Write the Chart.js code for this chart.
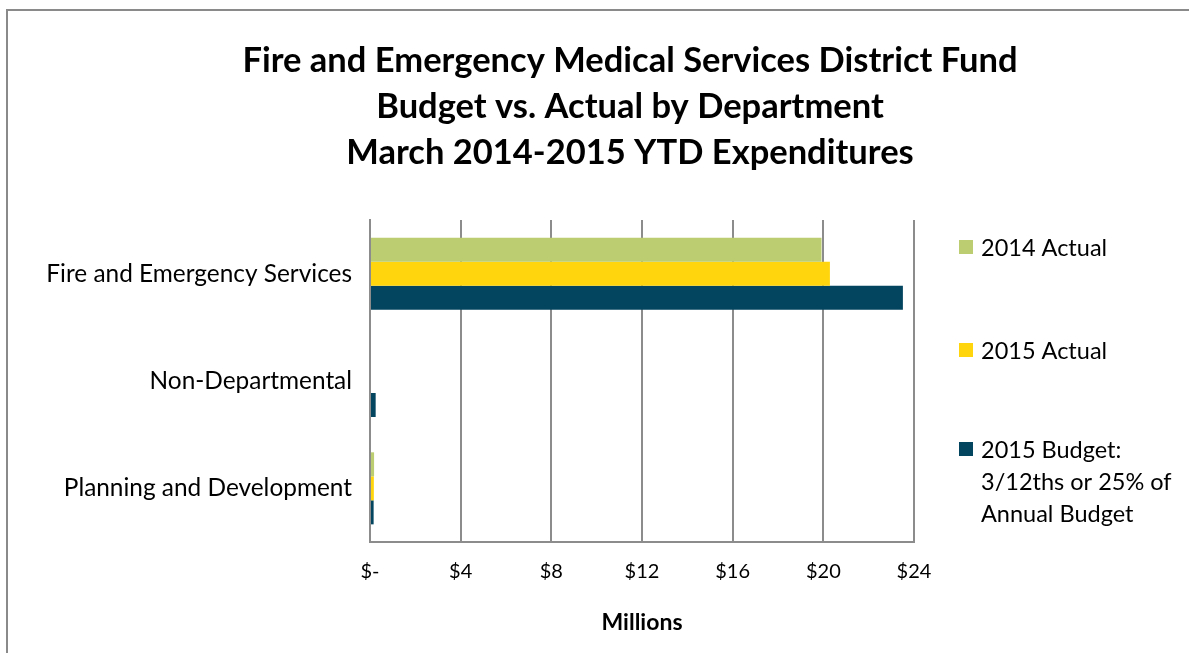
<!DOCTYPE html>
<html>
<head>
<meta charset="utf-8">
<title>Fire and EMS District Fund – Budget vs. Actual</title>
<script src="https://cdn.jsdelivr.net/npm/chart.js@4.4.1/dist/chart.umd.min.js"></script>
<style>
  html, body { margin: 0; padding: 0; background: #ffffff; }
  #wrap { width: 1189px; height: 653px; }
</style>
</head>
<body>
<div id="wrap"><canvas id="chart" width="1189" height="653"></canvas></div>
<script>
// Departments (top to bottom) and YTD expenditures in millions of dollars
const categories = ['Fire and Emergency Services', 'Non-Departmental', 'Planning and Development'];
const actual2014 = [19.92, 0, 0.18];
const actual2015 = [20.29, 0, 0.17];
const budget2015 = [23.51, 0.25, 0.16];

const seriesNames = ['2014 Actual', '2015 Actual', '2015 Budget: 3/12ths or 25% of Annual Budget'];
const seriesColors = ['#BBCC71', '#FFD60E', '#03445F'];

const xTickLabels = ['$-', '$4', '$8', '$12', '$16', '$20', '$24'];
const xAxisTitle = 'Millions';
const titleLines = [
  'Fire and Emergency Medical Services District Fund',
  'Budget vs. Actual by Department',
  'March 2014-2015 YTD Expenditures'
];

const FONT = 'Lato, "Open Sans", sans-serif';
const GRID = '#8c8c8c';

// Outer frame, white page and the three-line heading
const framePlugin = {
  id: 'frame',
  beforeDraw(chart) {
    const ctx = chart.ctx;
    ctx.save();
    ctx.fillStyle = '#ffffff';
    ctx.fillRect(0, 0, chart.width, chart.height);
    ctx.strokeStyle = '#8a8a8a';
    ctx.lineWidth = 2;
    ctx.strokeRect(7, 10, chart.width + 20, chart.height + 20);
    ctx.restore();
  },
  afterDraw(chart) {
    const ctx = chart.ctx;
    ctx.save();
    ctx.fillStyle = '#000000';
    ctx.font = 'bold 34.5px ' + FONT;
    ctx.textAlign = 'center';
    ctx.textBaseline = 'middle';
    titleLines.forEach((line, i) => ctx.fillText(line, 630, 61 + i * 46));
    ctx.restore();
  }
};

// Legend on the right: square swatch plus word-wrapped series name
const sideLegend = {
  id: 'sideLegend',
  afterDraw(chart) {
    const ctx = chart.ctx;
    const centers = [247, 350, 449];
    const maxW = 205, lineH = 32;
    ctx.save();
    ctx.font = '23.5px ' + FONT;
    ctx.textAlign = 'left';
    ctx.textBaseline = 'middle';
    chart.data.datasets.forEach((ds, i) => {
      const cy = centers[i];
      ctx.fillStyle = ds.backgroundColor;
      ctx.fillRect(959, cy - 7, 14, 14);
      const words = ds.label.split(' ');
      const lines = [];
      let cur = '';
      words.forEach(w => {
        const test = cur ? cur + ' ' + w : w;
        if (cur && ctx.measureText(test).width > maxW) { lines.push(cur); cur = w; }
        else cur = test;
      });
      if (cur) lines.push(cur);
      ctx.fillStyle = '#000000';
      lines.forEach((ln, j) => ctx.fillText(ln, 981, cy + 1 + j * lineH));
    });
    ctx.restore();
  }
};

new Chart(document.getElementById('chart'), {
  type: 'bar',
  data: {
    labels: categories,
    datasets: [
      { label: seriesNames[0], data: actual2014, backgroundColor: seriesColors[0] },
      { label: seriesNames[1], data: actual2015, backgroundColor: seriesColors[1] },
      { label: seriesNames[2], data: budget2015, backgroundColor: seriesColors[2] }
    ]
  },
  options: {
    indexAxis: 'y',
    responsive: false,
    animation: false,
    events: [],
    layout: { padding: { top: 220, right: 275, left: 0, bottom: 0 } },
    datasets: {
      bar: { categoryPercentage: 0.671, barPercentage: 1.0, borderWidth: 0 }
    },
    plugins: {
      legend: { display: false },
      title: { display: false },
      tooltip: { enabled: false }
    },
    scales: {
      x: {
        min: 0,
        max: 24,
        afterFit(scale) { scale.height = 111; },
        ticks: {
          stepSize: 4,
          color: '#000000',
          padding: 18,
          font: { family: FONT, size: 20 },
          callback: (v, i) => xTickLabels[i]
        },
        grid: { color: GRID, lineWidth: 2, drawTicks: false },
        border: { color: GRID, width: 2 },
        title: {
          display: true,
          text: xAxisTitle,
          color: '#000000',
          font: { family: FONT, size: 23, weight: 'bold' },
          padding: { top: 0, bottom: 17 }
        }
      },
      y: {
        afterFit(scale) { scale.width = 370; },
        ticks: {
          color: '#000000',
          padding: 18,
          font: { family: FONT, size: 24.4 }
        },
        grid: { display: false, drawTicks: false },
        border: { display: true, color: GRID, width: 2 }
      }
    }
  },
  plugins: [framePlugin, sideLegend]
});
</script>
</body>
</html>
